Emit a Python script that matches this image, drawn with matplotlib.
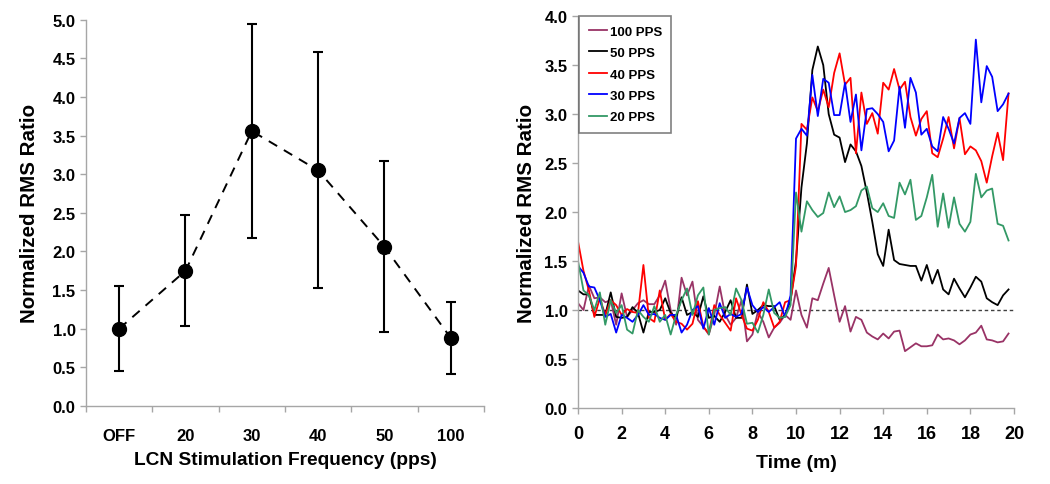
import numpy as np
import matplotlib
matplotlib.use("Agg")
import matplotlib.pyplot as plt
from matplotlib.ticker import MultipleLocator, FixedLocator

plt.rcParams['font.family'] = ['Liberation Sans', 'DejaVu Sans']
plt.rcParams['font.weight'] = 'bold'

# ---------------- Left panel data ----------------
categories = ["OFF", "20", "30", "40", "50", "100"]
mean_ratio = [1.00, 1.75, 3.56, 3.05, 2.06, 0.88]
err_upper = [1.55, 2.47, 4.94, 4.58, 3.17, 1.34]
err_lower = [0.45, 1.03, 2.17, 1.53, 0.96, 0.41]

# ---------------- Right panel data ----------------
time_min = np.arange(0, 20, 0.25)  # sample times (min)

pps100 = [1.07, 1.0, 1.25, 1.12, 1.13, 1.08, 1.1, 0.85, 1.17, 0.93, 1.0, 1.07, 1.1, 1.06, 1.06, 1.15,
          1.3, 1.0, 0.85, 1.33, 1.15, 1.29, 0.9, 0.83, 0.75, 0.95, 1.24, 0.95, 0.85, 0.92, 1.1, 0.68,
          0.75, 0.98, 0.88, 0.72, 0.82, 0.87, 0.95, 0.9,
          1.2, 0.95, 0.82, 1.12, 1.1, 1.27, 1.43, 1.15, 0.88, 1.04, 0.78, 0.93, 0.9, 0.77, 0.73, 0.7,
          0.76, 0.71, 0.78, 0.79, 0.58, 0.62, 0.66, 0.63, 0.63, 0.64, 0.75, 0.7, 0.71, 0.69, 0.65, 0.69,
          0.75, 0.77, 0.84, 0.7, 0.69, 0.67, 0.68, 0.76]
pps50 = [1.2, 1.16, 1.16, 0.95, 0.95, 0.95, 1.18, 0.93, 0.92, 0.93, 1.03, 0.97, 0.77, 0.98, 0.98, 1.0,
         1.12, 0.97, 0.92, 1.13, 0.95, 0.98, 0.93, 1.14, 0.92, 0.94, 0.88, 0.98, 1.1, 0.92, 0.92, 1.26,
         0.96, 1.0, 1.05, 1.04, 1.04, 0.9, 0.95, 1.1,
         1.5, 2.25, 2.7, 3.45, 3.69, 3.5, 3.0, 2.79, 2.76, 2.51, 2.69, 2.62, 2.47, 2.2, 1.9, 1.57,
         1.45, 1.82, 1.51, 1.47, 1.46, 1.45, 1.45, 1.3, 1.46, 1.27, 1.41, 1.21, 1.16, 1.32, 1.22, 1.13,
         1.23, 1.34, 1.29, 1.12, 1.08, 1.05, 1.15, 1.21]
pps40 = [1.7, 1.4, 1.2, 0.93, 1.12, 0.95, 1.1, 1.05, 0.95, 1.01, 0.98, 0.97, 1.46, 0.92, 0.88, 1.2,
         0.9, 0.96, 0.88, 0.86, 0.8, 0.86, 1.09, 0.83, 0.76, 1.05, 0.95, 0.87, 0.79, 1.12, 0.95, 0.81,
         0.79, 0.9, 1.08, 0.98, 0.82, 0.88, 1.08, 1.1,
         1.45, 2.9, 2.84, 3.17, 3.03, 3.25, 3.07, 3.42, 3.62, 3.3, 3.37, 2.6, 3.22, 2.9, 3.01, 2.8,
         3.32, 3.25, 3.46, 3.25, 3.33, 2.97, 2.78, 2.95, 3.03, 2.6, 2.56, 2.75, 2.97, 2.65, 2.96, 2.59,
         2.67, 2.63, 2.52, 2.3, 2.57, 2.81, 2.53, 3.21]
pps30 = [1.45, 1.38, 1.24, 1.23, 1.1, 0.93, 0.96, 0.77, 0.95, 0.92, 0.88, 0.95, 1.05, 0.95, 0.96, 0.92,
         0.9, 0.95, 0.95, 0.77, 0.85, 1.0, 1.04, 0.81, 1.02, 0.85, 1.07, 0.92, 0.96, 0.93, 0.96, 1.23,
         1.05, 0.98, 1.03, 0.98, 1.03, 1.08, 0.93, 1.15,
         2.75, 2.85, 2.78, 3.4, 2.98, 3.36, 3.32, 2.99, 2.99, 3.32, 2.92, 3.2, 2.63, 3.05, 3.06, 3.0,
         2.92, 2.62, 2.73, 3.28, 2.86, 3.37, 3.22, 2.79, 2.85, 2.67, 2.62, 2.97, 2.85, 2.7, 2.96, 3.01,
         2.9, 3.76, 3.12, 3.49, 3.38, 3.03, 3.1, 3.21]
pps20 = [1.5, 1.2, 1.15, 1.0, 1.18, 0.85, 1.1, 0.97, 1.05, 0.8, 0.76, 1.0, 0.93, 0.88, 1.04, 0.88,
         0.95, 0.75, 0.95, 1.1, 1.22, 0.95, 1.15, 1.23, 0.75, 1.0, 1.02, 1.03, 0.95, 1.22, 1.1, 0.86,
         0.87, 0.77, 0.95, 1.21, 0.97, 0.92, 0.93, 1.05,
         2.2, 1.8, 2.11, 2.02, 1.95, 1.99, 2.2, 2.05, 2.16, 2.0, 2.02, 2.06, 2.22, 2.26, 2.04, 2.0,
         2.09, 1.96, 1.94, 2.3, 2.18, 2.33, 1.92, 1.96, 2.15, 2.38, 1.85, 2.19, 1.84, 2.15, 1.88, 1.8,
         1.9, 2.39, 2.15, 2.22, 2.24, 1.88, 1.86, 1.71]

series_labels = ["100 PPS", "50 PPS", "40 PPS", "30 PPS", "20 PPS"]
series_values = [pps100, pps50, pps40, pps30, pps20]
series_colors = ["#993366", "#000000", "#ff0000", "#0000ff", "#339966"]

baseline_level = 1.0

# ---------------- Figure ----------------
fig = plt.figure(figsize=(10.5, 4.85), dpi=100)
spine_color = "#a6a6a6"

def style_axes(ax, size):
    for s in ["top", "right"]:
        ax.spines[s].set_visible(False)
    for s in ["left", "bottom"]:
        ax.spines[s].set_color(spine_color)
        ax.spines[s].set_linewidth(1.0)
    ax.tick_params(axis="both", which="both", colors=spine_color, direction="out",
                   length=4, width=1.0, labelcolor="black", labelsize=size)
    for lab in ax.get_xticklabels() + ax.get_yticklabels():
        lab.set_fontweight("bold")

# Left panel
ax1 = fig.add_axes([0.0819, 0.161, 0.379, 0.796])
x = np.arange(len(categories))
m = np.array(mean_ratio)
yerr = [m - np.array(err_lower), np.array(err_upper) - m]
ax1.errorbar(x, m, yerr=yerr, fmt="none", ecolor="black", elinewidth=1.5,
             capsize=3.5, capthick=1.5, zorder=2)
ax1.plot(x, m, linestyle=(0, (5, 4)), color="black", linewidth=1.4, zorder=3)
ax1.plot(x, m, linestyle="none", marker="o", markersize=10, color="black", zorder=4)
ax1.set_xlim(-0.5, len(categories) - 0.5)
ax1.set_ylim(0, 5.0)
ax1.yaxis.set_major_locator(MultipleLocator(0.5))
ax1.yaxis.set_major_formatter(matplotlib.ticker.FormatStrFormatter("%.1f"))
ax1.set_xticks(x)
ax1.set_xticklabels(categories)
ax1.xaxis.set_minor_locator(FixedLocator(np.arange(-0.5, len(categories), 1.0)))
style_axes(ax1, 12)
ax1.tick_params(axis="x", which="major", length=0, pad=16)
ax1.tick_params(axis="x", which="minor", length=4, color=spine_color)
ax1.set_ylabel("Normalized RMS Ratio", fontsize=14.8, fontweight="bold", labelpad=10)
ax1.set_xlabel("LCN Stimulation Frequency (pps)", fontsize=13.8, fontweight="bold", labelpad=6)

# Right panel
ax2 = fig.add_axes([0.5505, 0.1567, 0.4152, 0.808])
ax2.plot([0, 20], [baseline_level, baseline_level], linestyle=(0, (2.5, 2)),
         color="#404040", linewidth=1.0, zorder=1)
for lab, vals, col in zip(series_labels, series_values, series_colors):
    ax2.plot(time_min, vals, color=col, linewidth=1.3, label=lab, zorder=2)
ax2.set_xlim(0, 20)
ax2.set_ylim(0, 4.0)
ax2.xaxis.set_major_locator(MultipleLocator(2))
ax2.yaxis.set_major_locator(MultipleLocator(0.5))
ax2.yaxis.set_major_formatter(matplotlib.ticker.FormatStrFormatter("%.1f"))
style_axes(ax2, 12)
ax2.tick_params(axis="x", labelsize=13, pad=8)
ax2.set_ylabel("Normalized RMS Ratio", fontsize=14.8, fontweight="bold", labelpad=6)
ax2.set_xlabel("Time (m)", fontsize=14, fontweight="bold", labelpad=9)
leg = ax2.legend(loc="upper left", bbox_to_anchor=(0.003, 1.0), frameon=True, fancybox=False,
                 edgecolor="#606060", fontsize=9.5, handlelength=1.4, handletextpad=0.2,
                 labelspacing=0.7, borderpad=0.7, borderaxespad=0.0)
leg.get_frame().set_linewidth(1.2)
for t in leg.get_texts():
    t.set_fontweight("bold")

fig.savefig("out.png", dpi=100)
